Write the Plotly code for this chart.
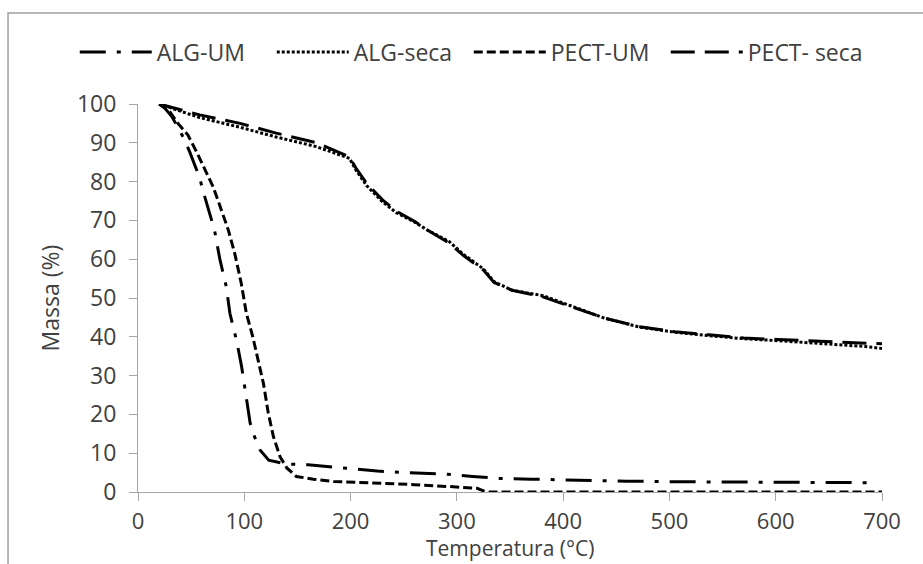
import plotly.graph_objects as go

# ---- data ----
alg_um_x = [20, 25, 32, 44, 49, 58, 61, 65, 72, 77, 83, 86.5, 93, 97.5, 102, 105.5, 110, 115, 123, 135,
            140, 160, 190, 225, 250, 290, 315, 340, 370, 400, 430, 460, 500, 550, 600, 650, 690]
alg_um_y = [100, 99, 96.7, 90.7, 87.4, 81, 77.8, 74, 67.5, 60, 53, 46, 38.7, 32.3, 24.6, 17.8, 14, 10.8, 8.2, 7.4,
            7.2, 7.0, 6.2, 5.4, 5.0, 4.6, 4.0, 3.5, 3.3, 3.1, 3.0, 2.8, 2.65, 2.6, 2.5, 2.5, 2.4]

pect_um_x = [20, 30, 37.6, 47, 55, 63, 70.6, 78.4, 85, 91, 97, 102, 108, 113, 118, 122.6, 127.4, 133.6, 140,
             149, 165, 184, 215, 246, 260, 293, 319, 325, 330, 400, 500, 600, 700]
pect_um_y = [100, 98, 95, 92, 87.7, 83, 78.7, 72.7, 67.5, 61.5, 54, 46, 40, 34, 28, 20.3, 14.3, 9.1, 6.2,
             4.0, 3.3, 2.7, 2.4, 2.06, 1.9, 1.4, 0.95, 0.3, 0, 0, 0, 0, 0]

seca_x = [20, 58, 96, 130, 168, 199, 205, 215, 230, 243, 260, 273, 293, 306, 325, 335, 352, 381, 407,
          439, 472, 505, 537, 570, 602, 642, 684, 700]
pect_seca_y = [100, 97.2, 95, 92.5, 90, 86.4, 83.5, 79.6, 75.3, 72.4, 69.8, 67.4, 64.1, 61.0, 57.2, 54.0, 52,
               50.3, 47.8, 44.8, 42.6, 41.3, 40.5, 39.7, 39.3, 38.9, 38.4, 38.2]
alg_seca_y = [100, 96.5, 94, 91.5, 89, 86, 83, 79, 74.8, 72.0, 69.6, 67.4, 64.5, 61.3, 57.5, 54.2, 52, 50.6, 48,
              44.8, 42.5, 41.2, 40.3, 39.5, 39, 38.3, 37.5, 37.0]

names = ["ALG-UM", "ALG-seca", "PECT-UM", "PECT- seca"]
x_ticks = [0, 100, 200, 300, 400, 500, 600, 700]
y_ticks = [0, 10, 20, 30, 40, 50, 60, 70, 80, 90, 100]
x_title = "Temperatura (°C)"
y_title = "Massa (%)"

FONT = "Open Sans"
FS = 23
TXT = "#404040"
AX = "#a6a6a6"

fig = go.Figure()
fig.add_trace(go.Scatter(x=alg_um_x, y=alg_um_y, mode="lines", name=names[0],
                         line=dict(color="black", width=3, dash="26px,11px,4px,11px")))
fig.add_trace(go.Scatter(x=seca_x, y=alg_seca_y, mode="lines", name=names[1],
                         line=dict(color="black", width=3, dash="3px,2px")))
fig.add_trace(go.Scatter(x=pect_um_x, y=pect_um_y, mode="lines", name=names[2],
                         line=dict(color="black", width=3, dash="9px,4px")))
fig.add_trace(go.Scatter(x=seca_x, y=pect_seca_y, mode="lines", name=names[3],
                         line=dict(color="black", width=3, dash="24px,10px")))

fig.update_layout(
    width=923, height=564,
    margin=dict(l=138, r=41, t=104, b=72, autoexpand=False),
    paper_bgcolor="white", plot_bgcolor="white",
    font=dict(family=FONT, size=FS, color=TXT),
    showlegend=True,
    legend=dict(orientation="h", x=-0.085, xanchor="left", y=1.134, yanchor="middle",
                font=dict(family=FONT, size=FS, color=TXT),
                itemwidth=72, entrywidth=110, bgcolor="rgba(0,0,0,0)"),
    xaxis=dict(range=[0, 700], tickvals=x_ticks, showgrid=False, zeroline=False,
               showline=True, linecolor=AX, linewidth=1, automargin=False,
               ticks="outside", ticklen=8, tickcolor=AX, ticklabelstandoff=2,
               tickfont=dict(family=FONT, size=22, color=TXT)),
    yaxis=dict(range=[0, 100], tickvals=y_ticks, showgrid=False, zeroline=False,
               showline=True, linecolor=AX, linewidth=1, automargin=False,
               ticks="outside", ticklen=8, tickcolor=AX, ticklabelstandoff=8,
               tickfont=dict(family=FONT, size=FS, color=TXT),
               title=dict(text=y_title, standoff=10,
                          font=dict(family=FONT, size=FS, color=TXT))),
    annotations=[dict(text=x_title, xref="paper", yref="paper", x=0.5, y=-0.144,
                      xanchor="center", yanchor="middle", showarrow=False,
                      font=dict(family=FONT, size=21, color=TXT))],
    shapes=[dict(type="path", xref="paper", yref="paper",
                 path="M -0.1747,-0.3 L -0.1747,1.2345 L 1.3,1.2345",
                 line=dict(color="#a0a0a0", width=1.5), layer="below")],
)

fig.write_html("out.html")
